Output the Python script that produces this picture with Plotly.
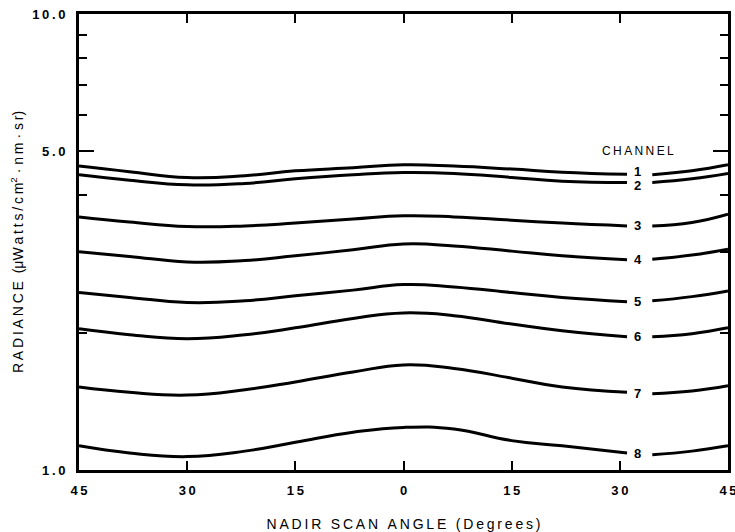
import math
import plotly.graph_objects as go

# Nadir scan angle (degrees, negative = left of nadir)
scan_angle = [-45, -38, -30, -22, -15, -7, 0, 7, 15, 22, 31, 34.5, 40, 45]

# Radiance (uW / cm2 / nm / sr) for each channel
channel_1 = [4.64, 4.51, 4.38, 4.42, 4.53, 4.60, 4.67, 4.64, 4.57, 4.50, 4.45, 4.44, 4.53, 4.67]
channel_2 = [4.44, 4.32, 4.22, 4.25, 4.35, 4.44, 4.49, 4.47, 4.38, 4.30, 4.27, 4.27, 4.35, 4.47]
channel_3 = [3.59, 3.50, 3.42, 3.43, 3.48, 3.55, 3.61, 3.59, 3.53, 3.48, 3.43, 3.43, 3.49, 3.64]
channel_4 = [3.01, 2.94, 2.86, 2.88, 2.95, 3.04, 3.13, 3.10, 3.02, 2.95, 2.89, 2.90, 2.96, 3.05]
channel_5 = [2.45, 2.39, 2.33, 2.35, 2.41, 2.48, 2.55, 2.52, 2.45, 2.39, 2.34, 2.35, 2.40, 2.47]
channel_6 = [2.04, 1.98, 1.94, 1.98, 2.05, 2.15, 2.21, 2.18, 2.09, 2.02, 1.96, 1.96, 1.99, 2.05]
channel_7 = [1.52, 1.48, 1.46, 1.50, 1.56, 1.64, 1.70, 1.67, 1.59, 1.52, 1.48, 1.47, 1.49, 1.53]
channel_8 = [1.13, 1.09, 1.07, 1.10, 1.15, 1.21, 1.24, 1.23, 1.16, 1.13, 1.09, 1.08, 1.10, 1.13]

channels = [channel_1, channel_2, channel_3, channel_4,
            channel_5, channel_6, channel_7, channel_8]
channel_names = ["1", "2", "3", "4", "5", "6", "7", "8"]

x_tick_vals = [-45, -30, -15, 0, 15, 30, 45]
x_tick_text = ["45", "30", "15", "0", "15", "30", "45"]
y_tick_vals = [1, 5, 10]
y_tick_text = ["1.0", "5.0", "10.0"]
y_minor_vals = [2, 3, 4, 6, 7, 8, 9]

# each curve is broken between these two samples to leave room for its label
BREAK_AFTER = 10
label_x = 32.5
label_shift = {"1": 3, "2": -3}

FONT = "Liberation Sans, Arial, sans-serif"
INK = "black"
THIN = "\u2009"


def spaced(s, sep=THIN):
    return sep.join(s)


fig = go.Figure()
annotations = []
for name, vals in zip(channel_names, channels):
    xs = scan_angle[:BREAK_AFTER + 1] + [None] + scan_angle[BREAK_AFTER + 1:]
    ys = vals[:BREAK_AFTER + 1] + [None] + vals[BREAK_AFTER + 1:]
    fig.add_trace(go.Scatter(
        x=xs, y=ys, mode="lines", name="Channel " + name,
        line=dict(color=INK, width=3, shape="spline", smoothing=1.3),
        connectgaps=False, showlegend=False, hoverinfo="skip",
    ))
    y_label = math.sqrt(vals[BREAK_AFTER] * vals[BREAK_AFTER + 1])
    annotations.append(dict(
        x=label_x, y=math.log10(y_label), xref="x", yref="y",
        text="<b>" + name + "</b>", showarrow=False,
        yshift=label_shift.get(name, 0),
        font=dict(family=FONT, size=13, color=INK),
    ))

annotations.append(dict(
    x=label_x, y=math.log10(5.0), xref="x", yref="y",
    text=spaced("CHANNEL"), showarrow=False,
    font=dict(family=FONT, size=12, color=INK),
))

y_title = (spaced("RADIANCE") + "  (μ" + spaced("Watts/cm")
           + "<sup>2</sup> · " + spaced("nm") + " · " + spaced("sr") + ")")
x_title = spaced("NADIR SCAN ANGLE (Degrees)")

fig.update_layout(
    width=735, height=532,
    margin=dict(l=79, r=7, t=14, b=62, autoexpand=False),
    paper_bgcolor="white", plot_bgcolor="white",
    font=dict(family=FONT, color=INK),
    annotations=annotations,
)

fig.update_xaxes(
    range=[-45, 45], showgrid=False, zeroline=False, automargin=False,
    showline=True, linewidth=3, linecolor=INK, mirror="ticks",
    ticks="inside", ticklen=9, tickwidth=1.5, tickcolor=INK,
    tickvals=x_tick_vals, ticktext=[spaced(t) for t in x_tick_text],
    tickfont=dict(family=FONT, size=13, color=INK, weight="bold"),
    ticklabelstandoff=6, ticklabeloverflow="allow",
    title=dict(text=x_title,
               font=dict(family=FONT, size=14, color=INK), standoff=24),
)

fig.update_yaxes(
    type="log", range=[0, 1], showgrid=False, zeroline=False, automargin=False,
    showline=True, linewidth=3, linecolor=INK, mirror="ticks",
    ticks="inside", ticklen=15, tickwidth=1.5, tickcolor=INK,
    tickvals=y_tick_vals, ticktext=[spaced(t) for t in y_tick_text],
    tickfont=dict(family=FONT, size=13, color=INK, weight="bold"),
    ticklabelstandoff=8,
    minor=dict(tickvals=y_minor_vals, ticks="inside", ticklen=8,
               tickwidth=1.5, tickcolor=INK, showgrid=False),
    title=dict(text=y_title,
               font=dict(family=FONT, size=14, color=INK), standoff=6),
)

fig.write_html("out.html")
